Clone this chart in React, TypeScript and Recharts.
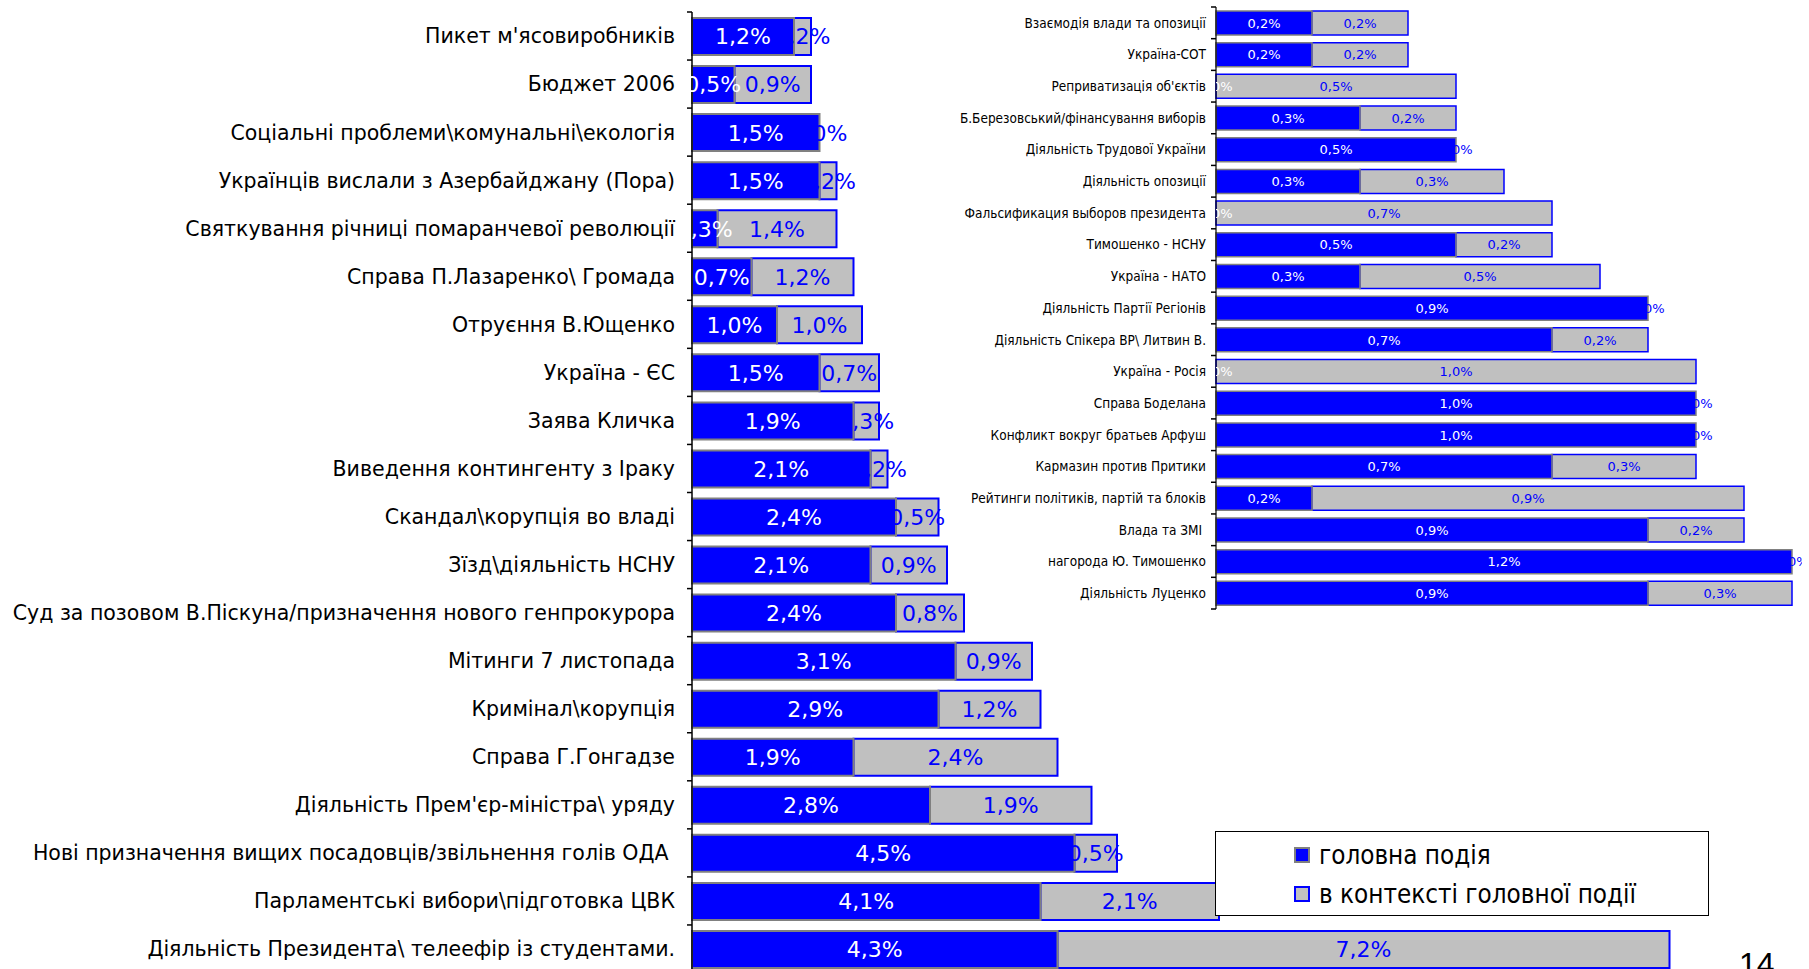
import React from 'react';
import { BarChart, Bar, XAxis, YAxis, LabelList, Legend } from 'recharts';

// Основна діаграма (згори донизу)
const mainCategories = [
  "Пикет м'ясовиробників",
  'Бюджет 2006',
  'Соціальні проблеми\\комунальні\\екологія',
  'Українців вислали з Азербайджану (Пора)',
  'Святкування річниці помаранчевої революції',
  'Справа П.Лазаренко\\ Громада',
  'Отруєння В.Ющенко',
  'Україна - ЄС',
  'Заява Кличка',
  'Виведення контингенту з Іраку',
  'Скандал\\корупція во владі',
  'Зїзд\\діяльність НСНУ',
  'Суд за позовом В.Піскуна/призначення нового генпрокурора',
  'Мітинги 7 листопада',
  'Кримінал\\корупція',
  'Справа Г.Гонгадзе',
  "Діяльність Прем'єр-міністра\\ уряду",
  'Нові призначення вищих посадовців/звільнення голів ОДА\u00a0',
  'Парламентські вибори\\підготовка ЦВК',
  'Діяльність Президента\\ телеефір із студентами.',
];
const mainEvent = [1.2, 0.5, 1.5, 1.5, 0.3, 0.7, 1.0, 1.5, 1.9, 2.1, 2.4, 2.1, 2.4, 3.1, 2.9, 1.9, 2.8, 4.5, 4.1, 4.3];
const mainContext = [0.2, 0.9, 0.0, 0.2, 1.4, 1.2, 1.0, 0.7, 0.3, 0.2, 0.5, 0.9, 0.8, 0.9, 1.2, 2.4, 1.9, 0.5, 2.1, 7.2];

// Вставка (дрібні події)
const insetCategories = [
  'Взаємодія влади та опозиції',
  'Україна-СОТ',
  "Реприватизація об'єктів",
  'Б.Березовський/фінансування виборів',
  'Діяльність Трудової України',
  'Діяльність опозиції',
  'Фальсификация выборов президента',
  'Тимошенко - НСНУ',
  'Україна - НАТО',
  'Діяльність Партії Регіонів',
  'Діяльність Спікера ВР\\ Литвин В.',
  'Україна - Росія',
  'Справа Боделана',
  'Конфликт вокруг братьев Арфуш',
  'Кармазин против Притики',
  'Рейтинги політиків, партій та блоків',
  'Влада та ЗМІ\u00a0',
  'нагорода Ю. Тимошенко',
  'Діяльність Луценко',
];
const insetEvent = [0.2, 0.2, 0.0, 0.3, 0.5, 0.3, 0.0, 0.5, 0.3, 0.9, 0.7, 0.0, 1.0, 1.0, 0.7, 0.2, 0.9, 1.2, 0.9];
const insetContext = [0.2, 0.2, 0.5, 0.2, 0.0, 0.3, 0.7, 0.2, 0.5, 0.0, 0.2, 1.0, 0.0, 0.0, 0.3, 0.9, 0.2, 0.0, 0.3];

const seriesNames = ['головна подія', 'в контексті головної події'];

const BLUE = '#0000FF';
const GRAY = '#C0C0C0';

const mainData = mainCategories.map((name, i) => ({ name, main: mainEvent[i], ctx: mainContext[i] }));
const insetData = insetCategories.map((name, i) => ({ name, main: insetEvent[i], ctx: insetContext[i] }));

const fmt = (v: number) => v.toFixed(1).replace('.', ',') + '%';

const makeTick = (gap: number, band: number, count: number, fontSize: number, family: string) => (props: any) => {
  const { x, y, payload, index } = props;
  const ax = x + gap;
  return (
    <g>
      <text x={x} y={y} dy="0.36em" textAnchor="end" fontFamily={family} fontSize={fontSize} fill="#000">
        {payload.value}
      </text>
      <line x1={ax - 5} x2={ax} y1={y - band / 2} y2={y - band / 2} stroke="#000" strokeWidth={1.5} />
      {index === count - 1 && (
        <line x1={ax - 5} x2={ax} y1={y + band / 2} y2={y + band / 2} stroke="#000" strokeWidth={1.5} />
      )}
    </g>
  );
};

// підписи значень; нульові сегменти підписує сусідній ряд
const makeLabel = (rows: any[], series: 'main' | 'ctx', fontSize: number) => (props: any) => {
  const vb = props.viewBox ?? props;
  const { x, y, width, height } = vb;
  const row = rows.find((r) => r.name === props.value);
  if (!row || row[series] === 0) return null;
  const cy = y + height / 2;
  const common = { fontSize, fontFamily: 'DejaVu Sans', dy: '0.36em', textAnchor: 'middle' as const };
  if (series === 'main') {
    return (
      <g>
        <text {...common} x={x + width / 2} y={cy} fill="#fff">{fmt(row.main)}</text>
        {row.ctx === 0 && (
          <text {...common} x={x + width} y={cy} fill={BLUE}>{fmt(0)}</text>
        )}
      </g>
    );
  }
  return (
    <g>
      <text {...common} x={x + width / 2} y={cy} fill={BLUE}>{fmt(row.ctx)}</text>
      {row.main === 0 && (
        <svg x={x} y={y - 6} width={fontSize * 3} height={height + 12} overflow="hidden">
          <text {...common} x={0} y={height / 2 + 6} fill="#fff">{fmt(0)}</text>
        </svg>
      )}
    </g>
  );
};

const LegendBox = () => (
  <div
    style={{
      width: 494,
      height: 85,
      boxSizing: 'border-box',
      border: '1px solid #000',
      background: '#fff',
      fontFamily: 'DejaVu Sans Condensed',
      fontSize: 25.8,
      color: '#000',
      paddingLeft: 78,
      paddingTop: 3,
    }}
  >
    {seriesNames.map((n, i) => (
      <div key={n} style={{ display: 'flex', alignItems: 'center', height: 39 }}>
        <span
          style={{
            display: 'inline-block',
            width: 12,
            height: 12,
            marginRight: 9,
            background: i === 0 ? BLUE : GRAY,
            border: `2px solid ${i === 0 ? '#808080' : BLUE}`,
          }}
        />
        {n}
      </div>
    ))}
  </div>
);

const MAIN_H = 975;
const MAIN_TOP = 12;
const MAIN_BOTTOM = 2;
const mainBand = (MAIN_H - MAIN_TOP - MAIN_BOTTOM) / mainData.length;

const INSET_H = 614;
const INSET_TOP = 7;
const INSET_BOTTOM = 5;
const insetBand = (INSET_H - INSET_TOP - INSET_BOTTOM) / insetData.length;

export default function App() {
  return (
    <div
      style={{
        position: 'absolute',
        left: 0,
        top: 0,
        width: 1809,
        height: 969,
        overflow: 'hidden',
        background: '#fff',
        fontFamily: 'DejaVu Sans',
      }}
    >
      <div style={{ position: 'absolute', left: 0, top: 0 }}>
        <BarChart
          width={1809}
          height={MAIN_H}
          data={mainData}
          layout="vertical"
          margin={{ top: MAIN_TOP, right: 97, bottom: MAIN_BOTTOM, left: 0 }}
        >
          <XAxis type="number" hide domain={[0, 12]} />
          <YAxis
            yAxisId="cat"
            type="category"
            dataKey="name"
            width={692}
            interval={0}
            axisLine={{ stroke: '#000', strokeWidth: 1.5 }}
            tickLine={false}
            tickSize={5}
            tickMargin={12}
            tick={makeTick(17, mainBand, mainData.length, 20.5, 'DejaVu Sans')}
          />
          <YAxis yAxisId="ghost" type="category" dataKey="name" hide />
          <Bar
            yAxisId="ghost"
            name={seriesNames[1]}
            dataKey={(d: any) => [d.main, d.main + d.ctx]}
            fill={GRAY}
            stroke={BLUE}
            strokeWidth={2}
            barSize={37}
            isAnimationActive={false}
          >
            <LabelList dataKey="name" content={makeLabel(mainData, 'ctx', 22)} />
          </Bar>
          <Bar
            yAxisId="cat"
            name={seriesNames[0]}
            dataKey={(d: any) => [0, d.main]}
            fill={BLUE}
            stroke="#808080"
            strokeWidth={2}
            barSize={37}
            isAnimationActive={false}
          >
            <LabelList dataKey="name" content={makeLabel(mainData, 'main', 22)} />
          </Bar>
          <Legend
            layout="horizontal"
            verticalAlign="middle"
            align="center"
            content={() => <LegendBox />}
            wrapperStyle={{ left: 1215, top: 831, width: 494, height: 85 }}
          />
        </BarChart>
      </div>

      <div style={{ position: 'absolute', left: 890, top: 0 }}>
        <BarChart
          width={912}
          height={INSET_H}
          data={insetData}
          layout="vertical"
          margin={{ top: INSET_TOP, right: 10, bottom: INSET_BOTTOM, left: 0 }}
        >
          <XAxis type="number" hide domain={[0, 1.2]} />
          <YAxis
            yAxisId="cat"
            type="category"
            dataKey="name"
            width={326}
            interval={0}
            axisLine={{ stroke: '#000', strokeWidth: 1.2 }}
            tickLine={false}
            tickSize={5}
            tickMargin={5}
            tick={makeTick(10, insetBand, insetData.length, 13.5, 'DejaVu Sans Condensed')}
          />
          <YAxis yAxisId="ghost" type="category" dataKey="name" hide />
          <Bar
            yAxisId="ghost"
            dataKey={(d: any) => [d.main, d.main + d.ctx]}
            fill={GRAY}
            stroke={BLUE}
            strokeWidth={1.5}
            barSize={24}
            isAnimationActive={false}
          >
            <LabelList dataKey="name" content={makeLabel(insetData, 'ctx', 13)} />
          </Bar>
          <Bar
            yAxisId="cat"
            dataKey={(d: any) => [0, d.main]}
            fill={BLUE}
            stroke="#808080"
            strokeWidth={1.5}
            barSize={24}
            isAnimationActive={false}
          >
            <LabelList dataKey="name" content={makeLabel(insetData, 'main', 13)} />
          </Bar>
        </BarChart>
      </div>

      <div
        style={{
          position: 'absolute',
          left: 1739,
          top: 944,
          fontFamily: 'Liberation Sans',
          fontSize: 32,
          color: '#000',
          lineHeight: '40px',
        }}
      >
        14
      </div>
    </div>
  );
}
